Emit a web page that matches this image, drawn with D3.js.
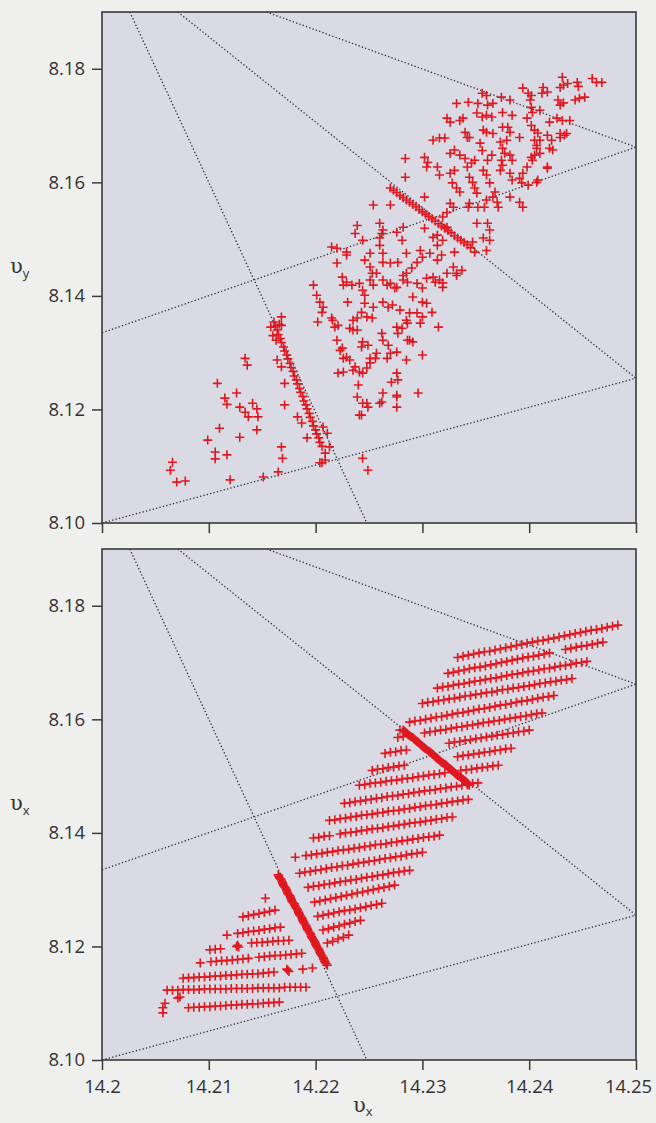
<!DOCTYPE html>
<html lang="en">
<head>
<meta charset="UTF-8"/>
<title>Velocity plane</title>
<script src="https://d3js.org/d3.v7.min.js"></script>
<style>
  body { margin: 0; background: #efefed; }
  svg { display: block; }
</style>
</head>
<body>
<div id="chart"></div>
<script>
var xDomain = [14.2, 14.25];
var yDomain = [8.10, 8.19];
var xTicks = [14.2, 14.21, 14.22, 14.23, 14.24, 14.25];
var xTickLabels = ["14.2", "14.21", "14.22", "14.23", "14.24", "14.25"];
var yTicks = [8.10, 8.12, 8.14, 8.16, 8.18];
var yTickLabels = ["8.10", "8.12", "8.14", "8.16", "8.18"];

// dotted guide lines: [x1, y1, x2, y2]
var guideLines = [
  [14.2026, 8.19, 14.2248, 8.10],
  [14.2071, 8.19, 14.25, 8.1255],
  [14.2154, 8.19, 14.25, 8.1662],
  [14.2, 8.1335, 14.25, 8.1662],
  [14.2, 8.10, 14.25, 8.1255]
];

// upper panel, scattered points
var topScatter = [
  [14.2134,8.1290],[14.2136,8.1278],[14.2108,8.1246],[14.2115,8.1220],[14.2117,8.1209],[14.2126,8.1229],
  [14.2129,8.1204],[14.2134,8.1195],[14.2137,8.1187],[14.2141,8.1211],[14.2145,8.1201],[14.2146,8.1187],
  [14.2145,8.1164],[14.2129,8.1151],[14.2110,8.1167],[14.2099,8.1146],[14.2106,8.1125],[14.2106,8.1113],
  [14.2117,8.1120],[14.2066,8.1107],[14.2064,8.1093],[14.2070,8.1072],[14.2078,8.1074],[14.2120,8.1076],
  [14.2151,8.1081],[14.2165,8.1090],[14.2168,8.1134],[14.2169,8.1114],[14.2171,8.1208],[14.2171,8.1246],
  [14.2164,8.1287],[14.2168,8.1275],[14.2183,8.1187],[14.2187,8.1176],[14.2192,8.1150],[14.2204,8.1106],
  [14.2209,8.1111],[14.2168,8.1363],[14.2168,8.1348],[14.2244,8.1114],[14.2249,8.1093],[14.2207,8.1169],
  [14.2211,8.1158],[14.2213,8.1134],[14.2209,8.1123],[14.2206,8.1106],
  [14.2198,8.1419],[14.2201,8.1401],[14.2204,8.1389],[14.2207,8.1380],[14.2206,8.1371],[14.2215,8.1486],
  [14.2220,8.1458],[14.2229,8.1472],[14.2225,8.1433],[14.2226,8.1419],[14.2229,8.1424],[14.2230,8.1389],
  [14.2202,8.1354],[14.2215,8.1361],[14.2218,8.1345],[14.2220,8.1322],[14.2235,8.1357],[14.2232,8.1343],
  [14.2239,8.1340],[14.2225,8.1308],[14.2229,8.1292],[14.2232,8.1287],[14.2237,8.1275],[14.2241,8.1266],
  [14.2244,8.1264],[14.2221,8.1264],[14.2226,8.1266],[14.2240,8.1243],[14.2239,8.1222],[14.2244,8.1211],
  [14.2249,8.1204],[14.2243,8.1190],[14.2246,8.1463],[14.2251,8.1451],[14.2253,8.1440],[14.2251,8.1428],
  [14.2244,8.1410],[14.2246,8.1401],[14.2243,8.1371],[14.2239,8.1361],[14.2248,8.1363],[14.2253,8.1361],
  [14.2260,8.1489],[14.2263,8.1459],[14.2257,8.1440],[14.2263,8.1428],[14.2270,8.1422],[14.2276,8.1415],
  [14.2270,8.1458],[14.2277,8.1459],[14.2263,8.1389],[14.2268,8.1380],[14.2272,8.1384],[14.2244,8.1319],
  [14.2249,8.1313],[14.2243,8.1310],[14.2257,8.1299],[14.2251,8.1290],[14.2263,8.1322],[14.2268,8.1313],
  [14.2270,8.1299],[14.2267,8.1290],[14.2276,8.1345],[14.2281,8.1343],[14.2277,8.1334],[14.2285,8.1357],
  [14.2288,8.1370],[14.2295,8.1370],[14.2300,8.1363],[14.2298,8.1352],[14.2288,8.1322],[14.2291,8.1319],
  [14.2285,8.1287],[14.2300,8.1296],[14.2276,8.1264],[14.2277,8.1252],[14.2271,8.1248],[14.2263,8.1229],
  [14.2262,8.1213],[14.2276,8.1222],[14.2276,8.1204],[14.2296,8.1229],[14.2315,8.1345],[14.2282,8.1428],
  [14.2285,8.1440],[14.2290,8.1449],[14.2295,8.1459],[14.2291,8.1398],[14.2300,8.1389],[14.2304,8.1387],
  [14.2309,8.1371],[14.2310,8.1433],[14.2316,8.1428],[14.2319,8.1423],[14.2323,8.1440],[14.2329,8.1451],
  [14.2332,8.1440],[14.2337,8.1445],[14.2300,8.1468],[14.2307,8.1475],[14.2314,8.1463],[14.2318,8.1472],
  [14.2260,8.1502],[14.2314,8.1507],[14.2319,8.1498],
  [14.2234,8.1419],[14.2241,8.1422],[14.2254,8.1419],[14.2267,8.1419],[14.2274,8.1414],[14.2282,8.1436],
  [14.2286,8.1424],[14.2295,8.1422],[14.2300,8.1414],[14.2304,8.1431],[14.2312,8.1424],[14.2319,8.1415],
  [14.2332,8.1436],[14.2216,8.1357],[14.2221,8.1348],[14.2235,8.1340],[14.2246,8.1387],[14.2254,8.1380],
  [14.2279,8.1375],[14.2286,8.1352],[14.2223,8.1304],[14.2226,8.1290],[14.2235,8.1269],[14.2248,8.1273],
  [14.2262,8.1334],[14.2256,8.1290],[14.2251,8.1282],[14.2276,8.1301],[14.2286,8.1322],[14.2248,8.1211],
  [14.2241,8.1190],[14.2260,8.1211],[14.2276,8.1225],
  [14.2431,8.1785],[14.2432,8.1771],[14.2429,8.1767],[14.2436,8.1774],[14.2445,8.1776],[14.2446,8.1769],
  [14.2459,8.1783],[14.2463,8.1776],[14.2468,8.1776],[14.2413,8.1767],[14.2412,8.1757],[14.2417,8.1759],
  [14.2394,8.1766],[14.2399,8.1757],[14.2402,8.1753],[14.2401,8.1745],[14.2427,8.1745],[14.2429,8.1736],
  [14.2432,8.1740],[14.2443,8.1745],[14.2447,8.1748],[14.2452,8.1750],[14.2356,8.1757],[14.2360,8.1753],
  [14.2374,8.1750],[14.2382,8.1745],[14.2402,8.1732],[14.2410,8.1727],[14.2403,8.1723],[14.2419,8.1706],
  [14.2426,8.1713],[14.2431,8.1709],[14.2438,8.1709],[14.2332,8.1739],[14.2343,8.1741],[14.2352,8.1739],
  [14.2361,8.1736],[14.2366,8.1739],[14.2323,8.1713],[14.2326,8.1706],[14.2335,8.1709],[14.2338,8.1713],
  [14.2351,8.1722],[14.2356,8.1715],[14.2360,8.1718],[14.2365,8.1715],[14.2375,8.1723],[14.2384,8.1718],
  [14.2398,8.1713],[14.2402,8.1700],[14.2405,8.1692],[14.2310,8.1674],[14.2316,8.1678],[14.2321,8.1678],
  [14.2340,8.1688],[14.2342,8.1679],[14.2344,8.1679],[14.2357,8.1692],[14.2360,8.1688],[14.2366,8.1686],
  [14.2375,8.1697],[14.2380,8.1697],[14.2382,8.1688],[14.2379,8.1674],[14.2391,8.1679],[14.2405,8.1674],
  [14.2407,8.1660],[14.2405,8.1648],[14.2402,8.1644],[14.2403,8.1639],[14.2417,8.1683],[14.2421,8.1674],
  [14.2429,8.1679],[14.2433,8.1683],[14.2422,8.1657],[14.2398,8.1627],[14.2394,8.1616],[14.2391,8.1607],
  [14.2393,8.1599],[14.2417,8.1627],[14.2408,8.1604],[14.2284,8.1642],[14.2284,8.1609],[14.2302,8.1644],
  [14.2305,8.1635],[14.2304,8.1627],[14.2314,8.1627],[14.2316,8.1613],[14.2326,8.1651],[14.2330,8.1657],
  [14.2335,8.1648],[14.2326,8.1616],[14.2330,8.1621],[14.2328,8.1599],[14.2332,8.1590],[14.2335,8.1583],
  [14.2340,8.1642],[14.2342,8.1627],[14.2346,8.1634],[14.2349,8.1639],[14.2344,8.1609],[14.2347,8.1600],
  [14.2349,8.1590],[14.2351,8.1581],[14.2354,8.1669],[14.2356,8.1656],[14.2361,8.1639],[14.2365,8.1648],
  [14.2357,8.1621],[14.2360,8.1613],[14.2373,8.1671],[14.2375,8.1660],[14.2377,8.1651],[14.2374,8.1639],
  [14.2375,8.1630],[14.2373,8.1621],[14.2382,8.1648],[14.2384,8.1639],[14.2382,8.1616],[14.2384,8.1604],
  [14.2363,8.1599],[14.2368,8.1583],[14.2366,8.1574],[14.2370,8.1565],[14.2371,8.1556],[14.2360,8.1569],
  [14.2358,8.1556],[14.2352,8.1556],[14.2343,8.1556],[14.2344,8.1563],[14.2326,8.1563],[14.2329,8.1556],
  [14.2302,8.1574],[14.2382,8.1574],[14.2391,8.1565],[14.2394,8.1556],[14.2351,8.1528],[14.2361,8.1528],
  [14.2363,8.1516],[14.2357,8.1502],[14.2363,8.1498],[14.2323,8.1547],[14.2270,8.1560],[14.2254,8.1560],
  [14.2282,8.1521],[14.2276,8.1512],[14.2281,8.1498],[14.2260,8.1528],[14.2263,8.1516],[14.2262,8.1510],
  [14.2239,8.1524],[14.2237,8.1510],[14.2244,8.1498],[14.2302,8.1519],[14.2310,8.1503],[14.2319,8.1539],
  [14.2323,8.1521],[14.2347,8.1495],[14.2349,8.1477],[14.2360,8.1480],[14.2220,8.1484],[14.2229,8.1477],
  [14.2251,8.1475],[14.2263,8.1475],[14.2285,8.1475],[14.2298,8.1480],[14.2314,8.1489],[14.2330,8.1477],
  [14.2408,8.1687],[14.2410,8.1674],[14.2407,8.1665],[14.2410,8.1651],[14.2429,8.1686],[14.2435,8.1686],
  [14.2419,8.1660],[14.2417,8.1625],[14.2407,8.1600],[14.2399,8.1595]
];

// upper panel, the two dense streaks
var topStreakA = [
  [14.2161,8.1354],[14.2162,8.1347],[14.2164,8.1340],[14.2165,8.1332],[14.2167,8.1325],[14.2168,8.1318],
  [14.2170,8.1310],[14.2171,8.1303],[14.2173,8.1296],[14.2174,8.1289],[14.2176,8.1281],[14.2177,8.1274],
  [14.2179,8.1267],[14.2180,8.1259],[14.2182,8.1252],[14.2183,8.1245],[14.2185,8.1237],[14.2186,8.1230],
  [14.2188,8.1223],[14.2189,8.1215],[14.2191,8.1208],[14.2192,8.1201],[14.2194,8.1193],[14.2195,8.1186],
  [14.2197,8.1179],[14.2198,8.1171],[14.2200,8.1164],[14.2201,8.1157],[14.2203,8.1150],[14.2204,8.1142],
  [14.2206,8.1135],[14.2158,8.1345],[14.2160,8.1330],[14.2166,8.1350],[14.2163,8.1322]
];
var topStreakB = [
  [14.2270,8.1590],[14.2273,8.1586],[14.2276,8.1582],[14.2279,8.1577],[14.2282,8.1573],[14.2285,8.1569],
  [14.2288,8.1565],[14.2291,8.1561],[14.2294,8.1557],[14.2297,8.1552],[14.2300,8.1548],[14.2303,8.1544],
  [14.2306,8.1540],[14.2309,8.1536],[14.2312,8.1532],[14.2315,8.1527],[14.2318,8.1523],[14.2321,8.1519],
  [14.2324,8.1515],[14.2327,8.1511],[14.2330,8.1506],[14.2333,8.1502],[14.2336,8.1498],[14.2339,8.1494],
  [14.2342,8.1490],[14.2345,8.1485]
];

// lower panel, the two dense streaks
var bottomStreakA = [
  [14.2165,8.1326],[14.2166,8.1321],[14.2168,8.1317],[14.2169,8.1312],[14.2170,8.1307],[14.2172,8.1303],
  [14.2173,8.1298],[14.2174,8.1293],[14.2176,8.1289],[14.2177,8.1284],[14.2178,8.1279],[14.2180,8.1275],
  [14.2181,8.1270],[14.2183,8.1265],[14.2184,8.1260],[14.2185,8.1256],[14.2187,8.1251],[14.2188,8.1246],
  [14.2189,8.1242],[14.2191,8.1237],[14.2192,8.1232],[14.2193,8.1228],[14.2195,8.1223],[14.2196,8.1218],
  [14.2197,8.1214],[14.2199,8.1209],[14.2200,8.1204],[14.2201,8.1200],[14.2203,8.1195],[14.2204,8.1190],
  [14.2205,8.1186],[14.2207,8.1181],[14.2208,8.1176],[14.2209,8.1172],[14.2211,8.1167],
  [14.21655,8.13235],[14.2167,8.1319],[14.21685,8.13145],[14.21695,8.13095],[14.2171,8.1305],[14.21725,8.13005],
  [14.21735,8.12955],[14.2175,8.1291],[14.21765,8.12865],[14.21775,8.12815],[14.2179,8.1277],[14.21805,8.12725],
  [14.2182,8.12675],[14.21835,8.12625],[14.21845,8.1258],[14.2186,8.12535],[14.21875,8.12485],[14.21885,8.1244],
  [14.2190,8.12395],[14.21915,8.12345],[14.21925,8.1230],[14.2194,8.12255],[14.21955,8.12205],[14.21965,8.1216],
  [14.2198,8.12115],[14.21995,8.12065],[14.22005,8.1202],[14.2202,8.11975],[14.22035,8.11925],[14.22045,8.1188],
  [14.2206,8.11835],[14.22075,8.11785],[14.22085,8.1174],[14.2210,8.11695]
];
var bottomStreakB = [
  [14.2282,8.1581],[14.2284,8.1578],[14.2286,8.1574],[14.2288,8.1571],[14.2291,8.1568],[14.2293,8.1564],
  [14.2295,8.1561],[14.2297,8.1558],[14.2299,8.1554],[14.2301,8.1551],[14.2303,8.1548],[14.2306,8.1544],
  [14.2308,8.1541],[14.2310,8.1538],[14.2312,8.1534],[14.2314,8.1531],[14.2316,8.1528],[14.2318,8.1524],
  [14.2321,8.1521],[14.2323,8.1518],[14.2325,8.1514],[14.2327,8.1511],[14.2329,8.1508],[14.2331,8.1504],
  [14.2333,8.1501],[14.2336,8.1498],[14.2338,8.1494],[14.2340,8.1491],[14.2342,8.1488],[14.2344,8.1484],
  [14.2283,8.15795],[14.2285,8.1576],[14.2287,8.15725],[14.22895,8.15695],[14.2292,8.1566],[14.2294,8.15625],
  [14.2296,8.15595],[14.2298,8.1556],[14.2300,8.15525],[14.2302,8.15495],[14.23045,8.1546],[14.2307,8.15425],
  [14.2309,8.15395],[14.2311,8.1536],[14.2313,8.15325],[14.2315,8.15295],[14.2317,8.1526],[14.23195,8.15225],
  [14.2322,8.15195],[14.2324,8.1516],[14.2326,8.15125],[14.2328,8.15095],[14.2330,8.1506],[14.2332,8.15025],
  [14.23345,8.14995],[14.2337,8.1496],[14.2339,8.14925],[14.2341,8.14895],[14.2343,8.1486]
];

// lower panel, rows of the upper band (top row first)
var bottomBand = [
  [14.2333,8.1709],[14.2338,8.1711],[14.2343,8.1713],[14.2348,8.1715],[14.2353,8.1717],[14.2358,8.1719],
  [14.2363,8.1720],[14.2368,8.1722],[14.2373,8.1724],[14.2378,8.1726],[14.2383,8.1728],[14.2388,8.1730],
  [14.2393,8.1732],[14.2398,8.1734],[14.2403,8.1736],[14.2408,8.1738],[14.2413,8.1739],[14.2418,8.1741],
  [14.2423,8.1743],[14.2428,8.1745],[14.2433,8.1747],[14.2438,8.1749],[14.2443,8.1751],[14.2448,8.1753],
  [14.2453,8.1755],[14.2458,8.1757],[14.2463,8.1758],[14.2468,8.1760],[14.2473,8.1762],[14.2478,8.1764],
  [14.2483,8.1766],
  [14.2324,8.1681],[14.2329,8.1683],[14.2334,8.1685],[14.2339,8.1687],[14.2344,8.1689],[14.2349,8.1691],
  [14.2354,8.1692],[14.2359,8.1694],[14.2364,8.1696],[14.2369,8.1698],[14.2374,8.1700],[14.2379,8.1702],
  [14.2384,8.1704],[14.2389,8.1706],[14.2394,8.1708],[14.2399,8.1710],[14.2404,8.1711],[14.2409,8.1713],
  [14.2414,8.1715],[14.2419,8.1717],[14.2434,8.1723],[14.2439,8.1725],[14.2444,8.1727],[14.2449,8.1729],
  [14.2454,8.1730],[14.2459,8.1732],[14.2464,8.1734],[14.2469,8.1736],
  [14.2314,8.1655],[14.2319,8.1657],[14.2324,8.1658],[14.2329,8.1660],[14.2334,8.1662],[14.2339,8.1663],
  [14.2344,8.1665],[14.2349,8.1667],[14.2354,8.1668],[14.2359,8.1670],[14.2364,8.1672],[14.2369,8.1673],
  [14.2374,8.1675],[14.2379,8.1677],[14.2384,8.1679],[14.2389,8.1680],[14.2394,8.1682],[14.2399,8.1684],
  [14.2404,8.1685],[14.2409,8.1687],[14.2414,8.1689],[14.2419,8.1690],[14.2424,8.1692],[14.2429,8.1694],
  [14.2434,8.1695],[14.2439,8.1697],[14.2444,8.1699],[14.2449,8.1700],[14.2454,8.1702],
  [14.2300,8.1628],[14.2305,8.1630],[14.2310,8.1631],[14.2315,8.1633],[14.2320,8.1634],[14.2325,8.1636],
  [14.2330,8.1637],[14.2335,8.1639],[14.2340,8.1641],[14.2345,8.1642],[14.2350,8.1644],[14.2355,8.1645],
  [14.2360,8.1647],[14.2365,8.1648],[14.2370,8.1650],[14.2375,8.1652],[14.2380,8.1653],[14.2385,8.1655],
  [14.2390,8.1656],[14.2395,8.1658],[14.2400,8.1659],[14.2405,8.1661],[14.2410,8.1663],[14.2415,8.1664],
  [14.2420,8.1666],[14.2425,8.1667],[14.2430,8.1669],[14.2435,8.1670],[14.2440,8.1672],
  [14.2279,8.1581],[14.2288,8.1595],[14.2293,8.1597],[14.2298,8.1598],[14.2303,8.1600],[14.2308,8.1602],
  [14.2313,8.1604],[14.2318,8.1605],[14.2323,8.1607],[14.2328,8.1609],[14.2333,8.1611],[14.2338,8.1612],
  [14.2343,8.1614],[14.2348,8.1616],[14.2353,8.1618],[14.2358,8.1619],[14.2363,8.1621],[14.2368,8.1623],
  [14.2373,8.1625],[14.2378,8.1626],[14.2383,8.1628],[14.2388,8.1630],[14.2393,8.1632],[14.2398,8.1633],
  [14.2403,8.1635],[14.2408,8.1637],[14.2413,8.1639],[14.2418,8.1640],[14.2423,8.1642],
  [14.2277,8.1568],[14.2282,8.1570],[14.2302,8.1576],[14.2307,8.1578],[14.2312,8.1579],[14.2317,8.1581],
  [14.2322,8.1582],[14.2327,8.1584],[14.2332,8.1586],[14.2337,8.1587],[14.2342,8.1589],[14.2347,8.1590],
  [14.2352,8.1592],[14.2357,8.1594],[14.2362,8.1595],[14.2367,8.1597],[14.2372,8.1598],[14.2377,8.1600],
  [14.2382,8.1602],[14.2387,8.1603],[14.2392,8.1605],[14.2397,8.1606],[14.2402,8.1608],[14.2407,8.1610],
  [14.2412,8.1611],
  [14.2265,8.1540],[14.2270,8.1542],[14.2275,8.1543],[14.2280,8.1545],[14.2285,8.1546],[14.2325,8.1558],
  [14.2330,8.1560],[14.2335,8.1561],[14.2340,8.1563],[14.2345,8.1564],[14.2350,8.1566],[14.2355,8.1567],
  [14.2360,8.1569],[14.2365,8.1570],[14.2370,8.1572],[14.2375,8.1573],[14.2380,8.1575],[14.2385,8.1576],
  [14.2390,8.1578],[14.2395,8.1579],[14.2400,8.1581],
  [14.2253,8.1510],[14.2258,8.1512],[14.2263,8.1513],[14.2268,8.1515],[14.2273,8.1516],[14.2278,8.1518],
  [14.2283,8.1519],[14.2333,8.1534],[14.2338,8.1536],[14.2343,8.1537],[14.2348,8.1539],[14.2353,8.1540],
  [14.2358,8.1542],[14.2363,8.1543],[14.2368,8.1545],[14.2373,8.1546],[14.2378,8.1548],[14.2383,8.1549],
  [14.2241,8.1484],[14.2246,8.1485],[14.2251,8.1487],[14.2256,8.1488],[14.2261,8.1489],[14.2266,8.1491],
  [14.2271,8.1492],[14.2276,8.1493],[14.2281,8.1495],[14.2286,8.1496],[14.2291,8.1497],[14.2296,8.1499],
  [14.2301,8.1500],[14.2306,8.1502],[14.2311,8.1503],[14.2316,8.1504],[14.2321,8.1506],[14.2336,8.1510],
  [14.2341,8.1511],[14.2346,8.1512],[14.2351,8.1514],[14.2356,8.1515],[14.2361,8.1516],[14.2366,8.1518],
  [14.2371,8.1519],
  [14.2227,8.1452],[14.2232,8.1453],[14.2237,8.1455],[14.2242,8.1456],[14.2247,8.1458],[14.2252,8.1459],
  [14.2257,8.1461],[14.2262,8.1462],[14.2267,8.1464],[14.2272,8.1465],[14.2277,8.1466],[14.2282,8.1468],
  [14.2287,8.1469],[14.2292,8.1471],[14.2297,8.1472],[14.2302,8.1474],[14.2307,8.1475],[14.2312,8.1476],
  [14.2317,8.1478],[14.2322,8.1479],[14.2327,8.1481],[14.2332,8.1482],[14.2337,8.1484],[14.2342,8.1485],
  [14.2347,8.1487],[14.2352,8.1488],
  [14.2213,8.1422],[14.2218,8.1423],[14.2223,8.1425],[14.2228,8.1426],[14.2233,8.1428],[14.2238,8.1429],
  [14.2243,8.1431],[14.2248,8.1432],[14.2253,8.1433],[14.2258,8.1435],[14.2263,8.1436],[14.2268,8.1438],
  [14.2273,8.1439],[14.2278,8.1440],[14.2283,8.1442],[14.2288,8.1443],[14.2293,8.1445],[14.2298,8.1446],
  [14.2303,8.1448],[14.2308,8.1449],[14.2313,8.1450],[14.2318,8.1452],[14.2323,8.1453],[14.2328,8.1455],
  [14.2333,8.1456],[14.2338,8.1458],[14.2343,8.1459],
  [14.2198,8.1391],[14.2203,8.1392],[14.2208,8.1394],[14.2213,8.1395],[14.2223,8.1398],[14.2228,8.1400],
  [14.2233,8.1401],[14.2238,8.1402],[14.2243,8.1404],[14.2248,8.1405],[14.2253,8.1407],[14.2258,8.1408],
  [14.2263,8.1409],[14.2268,8.1411],[14.2273,8.1412],[14.2278,8.1414],[14.2283,8.1415],[14.2288,8.1417],
  [14.2293,8.1418],[14.2298,8.1419],[14.2303,8.1421],[14.2308,8.1422],[14.2313,8.1424],[14.2318,8.1425],
  [14.2323,8.1427],[14.2328,8.1428],
  [14.2181,8.1357],[14.2191,8.1360],[14.2196,8.1361],[14.2201,8.1363],[14.2206,8.1364],[14.2211,8.1366],
  [14.2216,8.1367],[14.2221,8.1369],[14.2226,8.1370],[14.2231,8.1371],[14.2236,8.1373],[14.2241,8.1374],
  [14.2246,8.1376],[14.2251,8.1377],[14.2256,8.1379],[14.2261,8.1380],[14.2266,8.1381],[14.2271,8.1383],
  [14.2276,8.1384],[14.2281,8.1386],[14.2286,8.1387],[14.2291,8.1389],[14.2296,8.1390],[14.2301,8.1392],
  [14.2306,8.1393],[14.2311,8.1394],[14.2316,8.1396],
  [14.2185,8.1329],[14.2190,8.1331],[14.2195,8.1332],[14.2200,8.1334],[14.2205,8.1335],[14.2210,8.1337],
  [14.2215,8.1339],[14.2220,8.1340],[14.2225,8.1342],[14.2230,8.1343],[14.2235,8.1345],[14.2240,8.1347],
  [14.2245,8.1348],[14.2250,8.1350],[14.2255,8.1351],[14.2260,8.1353],[14.2265,8.1355],[14.2270,8.1356],
  [14.2275,8.1358],[14.2280,8.1359],[14.2285,8.1361],[14.2290,8.1363],[14.2295,8.1364],[14.2300,8.1366],
  [14.2193,8.1304],[14.2198,8.1306],[14.2203,8.1307],[14.2208,8.1309],[14.2213,8.1310],[14.2218,8.1312],
  [14.2223,8.1314],[14.2228,8.1315],[14.2233,8.1317],[14.2238,8.1318],[14.2243,8.1320],[14.2248,8.1322],
  [14.2253,8.1323],[14.2258,8.1325],[14.2263,8.1326],[14.2268,8.1328],[14.2273,8.1330],[14.2278,8.1331],
  [14.2283,8.1333],[14.2288,8.1334],
  [14.2199,8.1278],[14.2204,8.1280],[14.2209,8.1282],[14.2214,8.1284],[14.2219,8.1286],[14.2224,8.1288],
  [14.2229,8.1290],[14.2234,8.1292],[14.2239,8.1294],[14.2244,8.1296],[14.2249,8.1298],[14.2254,8.1300],
  [14.2259,8.1302],[14.2264,8.1304],[14.2269,8.1306],[14.2274,8.1308],
  [14.2202,8.1253],[14.2207,8.1255],[14.2212,8.1257],[14.2217,8.1259],[14.2222,8.1261],[14.2227,8.1263],
  [14.2232,8.1264],[14.2237,8.1266],[14.2242,8.1268],[14.2247,8.1270],[14.2252,8.1272],[14.2257,8.1274],
  [14.2262,8.1276],
  [14.2207,8.1229],[14.2212,8.1231],[14.2217,8.1234],[14.2222,8.1236],[14.2227,8.1239],[14.2232,8.1241],
  [14.2237,8.1244],[14.2242,8.1246],
  [14.2211,8.1206],[14.2216,8.1209],[14.2221,8.1213],[14.2226,8.1216],[14.2231,8.1220]
];

// lower panel, rows of the small group left of the streak
var bottomGroup = [
  [14.2153,8.1285],
  [14.2132,8.1252],[14.2137,8.1254],[14.2142,8.1256],[14.2147,8.1258],[14.2152,8.1260],[14.2157,8.1262],
  [14.2162,8.1264],
  [14.2117,8.1220],[14.2127,8.1223],[14.2132,8.1224],[14.2137,8.1226],[14.2142,8.1227],[14.2147,8.1228],
  [14.2152,8.1230],[14.2157,8.1231],[14.2162,8.1233],[14.2167,8.1234],
  [14.2101,8.1194],[14.2106,8.1195],[14.2111,8.1196],[14.2126,8.1200],[14.2128,8.1199],[14.2127,8.1202],
  [14.2140,8.1206],[14.2145,8.1207],[14.2150,8.1207],[14.2155,8.1208],[14.2160,8.1209],[14.2165,8.1210],
  [14.2170,8.1210],[14.2175,8.1211],
  [14.2092,8.1171],[14.2102,8.1173],[14.2107,8.1174],[14.2112,8.1175],[14.2117,8.1175],[14.2122,8.1176],
  [14.2127,8.1177],[14.2132,8.1178],[14.2137,8.1179],[14.2147,8.1181],[14.2152,8.1182],[14.2157,8.1183],
  [14.2162,8.1184],[14.2167,8.1184],[14.2172,8.1185],[14.2177,8.1186],[14.2182,8.1187],[14.2187,8.1188],
  [14.2076,8.1144],[14.2081,8.1145],[14.2086,8.1145],[14.2091,8.1146],[14.2096,8.1146],[14.2101,8.1147],
  [14.2106,8.1148],[14.2111,8.1148],[14.2116,8.1149],[14.2121,8.1149],[14.2126,8.1150],[14.2131,8.1151],
  [14.2136,8.1151],[14.2141,8.1152],[14.2146,8.1152],[14.2151,8.1153],[14.2156,8.1154],[14.2161,8.1155],
  [14.2174,8.1158],[14.2175,8.1156],[14.2173,8.1160],[14.2188,8.1160],[14.2197,8.1162],
  [14.2061,8.1123],[14.2066,8.1123],[14.2071,8.1123],[14.2076,8.1124],[14.2081,8.1124],[14.2086,8.1124],
  [14.2091,8.1124],[14.2096,8.1125],[14.2101,8.1125],[14.2106,8.1125],[14.2111,8.1125],[14.2116,8.1125],
  [14.2121,8.1126],[14.2126,8.1126],[14.2131,8.1126],[14.2136,8.1126],[14.2141,8.1126],[14.2146,8.1127],
  [14.2151,8.1127],[14.2156,8.1127],[14.2161,8.1127],[14.2166,8.1127],[14.2171,8.1128],[14.2176,8.1128],
  [14.2181,8.1128],[14.2186,8.1128],[14.2191,8.1128],
  [14.2081,8.1092],[14.2086,8.1093],[14.2091,8.1093],[14.2096,8.1094],[14.2101,8.1094],[14.2106,8.1095],
  [14.2111,8.1095],[14.2116,8.1096],[14.2121,8.1097],[14.2126,8.1097],[14.2131,8.1098],[14.2136,8.1098],
  [14.2141,8.1099],[14.2146,8.1099],[14.2151,8.1100],[14.2156,8.1101],[14.2161,8.1101],[14.2166,8.1102],
  [14.2059,8.1100],[14.2057,8.1092],[14.2057,8.1083],[14.2071,8.1109],[14.2073,8.1111]
];

var W = 656, H = 1123;
var plotLeft = 102, plotW = 534, plotH = 511;

var svg = d3.select("#chart").append("svg")
    .attr("width", W)
    .attr("height", H);

var x = d3.scaleLinear().domain(xDomain).range([0, plotW]);
var y = d3.scaleLinear().domain(yDomain).range([plotH, 0]);

var panels = [
  { top: 12, sub: "y", points: topScatter.concat(topStreakA, topStreakB), xLabels: false },
  { top: 549, sub: "x", points: bottomBand.concat(bottomGroup, bottomStreakA, bottomStreakB), xLabels: true }
];

panels.forEach(function(p, i) {
  var g = svg.append("g").attr("transform", "translate(" + plotLeft + "," + p.top + ")");

  g.append("rect")
    .attr("width", plotW).attr("height", plotH)
    .attr("fill", "#d9dae3");

  g.append("clipPath").attr("id", "clip" + i)
    .append("rect").attr("width", plotW).attr("height", plotH);

  var inner = g.append("g").attr("clip-path", "url(#clip" + i + ")");

  inner.selectAll("line.guide")
    .data(guideLines)
    .enter().append("line")
    .attr("class", "guide")
    .attr("x1", function(d) { return x(d[0]); })
    .attr("y1", function(d) { return y(d[1]); })
    .attr("x2", function(d) { return x(d[2]); })
    .attr("y2", function(d) { return y(d[3]); })
    .attr("stroke", "#2b2b2b")
    .attr("stroke-width", 1.3)
    .attr("stroke-dasharray", "1.3,2.2");

  inner.selectAll("path.pt")
    .data(p.points)
    .enter().append("path")
    .attr("class", "pt")
    .attr("transform", function(d) { return "translate(" + x(d[0]) + "," + y(d[1]) + ")"; })
    .attr("d", "M-4.5,0H4.5M0,-4.5V4.5")
    .attr("stroke", "#df1820")
    .attr("stroke-width", 1.6)
    .attr("fill", "none");

  // y axis
  var yAxis = d3.axisLeft(y)
    .tickValues(yTicks)
    .tickFormat(function(d, k) { return yTickLabels[k]; })
    .tickSize(10)
    .tickPadding(7);
  var ya = g.append("g").call(yAxis);

  // x axis
  var xAxis = d3.axisBottom(x)
    .tickValues(xTicks)
    .tickFormat(function(d, k) { return p.xLabels ? xTickLabels[k] : ""; })
    .tickSize(10)
    .tickPadding(10);
  var xa = g.append("g").attr("transform", "translate(0," + plotH + ")").call(xAxis);

  [ya, xa].forEach(function(a) {
    a.select(".domain").remove();
    a.selectAll(".tick line").attr("stroke", "#3a3a3a").attr("stroke-width", 1.5);
    a.selectAll(".tick text")
      .attr("fill", "#333")
      .attr("font-family", "'Open Sans', sans-serif")
      .attr("font-size", "18.5px");
  });
  // last label sits a little to the left so it stays on the page
  xa.selectAll(".tick text").filter(function(d, k) { return k === xTicks.length - 1; })
    .attr("dx", -8);

  g.append("rect")
    .attr("width", plotW).attr("height", plotH)
    .attr("fill", "none")
    .attr("stroke", "#3a3a3a")
    .attr("stroke-width", 1.6);

  // axis label on the left
  var lab = svg.append("text")
    .attr("x", 10)
    .attr("y", p.top + plotH / 2 + 5)
    .attr("font-family", "'DejaVu Serif', serif")
    .attr("font-size", "21px")
    .attr("fill", "#333")
    .text("\u03c5");
  lab.append("tspan")
    .attr("font-family", "'Open Sans', sans-serif")
    .attr("font-size", "13px")
    .attr("dy", 5)
    .text(p.sub);
});

var xl = svg.append("text")
  .attr("x", 353)
  .attr("y", 1112)
  .attr("font-family", "'DejaVu Serif', serif")
  .attr("font-size", "21px")
  .attr("fill", "#333")
  .text("\u03c5");
xl.append("tspan")
  .attr("font-family", "'Open Sans', sans-serif")
  .attr("font-size", "13px")
  .attr("dy", 4)
  .text("x");
</script>
</body>
</html>
